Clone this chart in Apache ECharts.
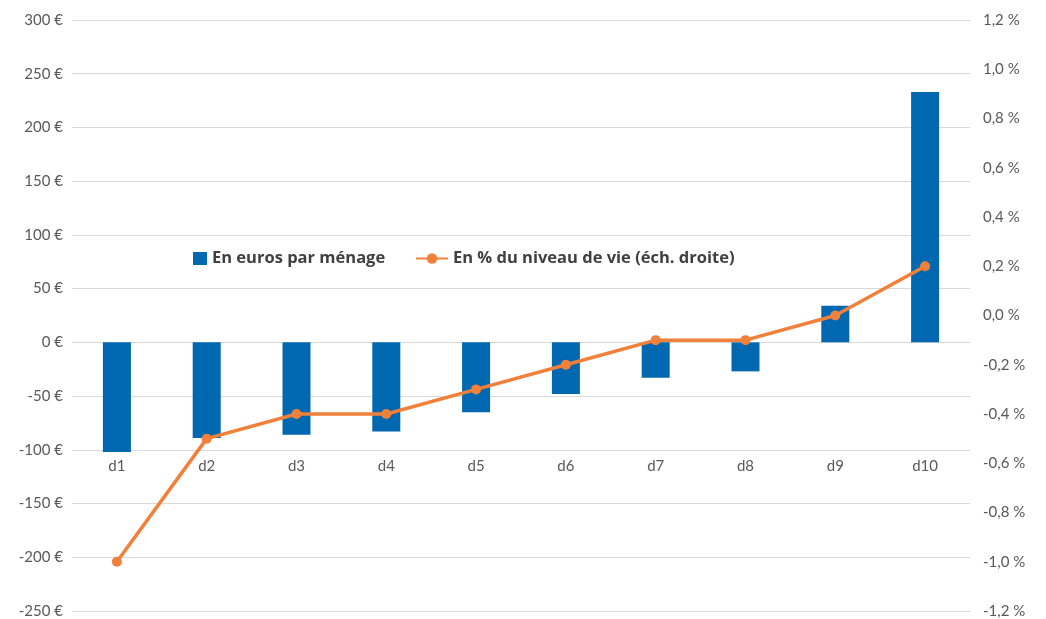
<!DOCTYPE html>
<html>
<head>
<meta charset="utf-8">
<script src="https://cdn.jsdelivr.net/npm/echarts@6/dist/echarts.min.js"></script>
<style>
    html, body { margin: 0; padding: 0; background: #fff; }
    #chart { width: 1046px; height: 619px; }
</style>
</head>
<body>
<div id="chart"></div>
<script>
    // déciles
    const deciles = ['d1', 'd2', 'd3', 'd4', 'd5', 'd6', 'd7', 'd8', 'd9', 'd10']
    // en euros par ménage
    const euros = [-102, -89, -86, -83, -65, -48, -33, -27, 34, 233]
    // en % du niveau de vie (échelle droite)
    const pct = [-1.0, -0.5, -0.4, -0.4, -0.3, -0.2, -0.1, -0.1, 0.0, 0.2]

    const fmt = (v, d) => v.toFixed(d).replace('.', ',')
    const txt = { color: '#595959', fontSize: 15, fontFamily: 'Lato, sans-serif' }
    const legendText = { color: '#404040', fontSize: 16.5, fontWeight: 'bold', fontFamily: '"Open Sans", sans-serif' }

    let chart = echarts.init(document.getElementById('chart'))
    chart.setOption({
        animation: false,
        textStyle: { fontFamily: 'Lato, sans-serif' },
        grid: { left: 72, right: 76, top: 20, bottom: 8, containLabel: false },
        // deux légendes pour avoir des pictos de largeur différente
        legend: [
            {
                left: 188, top: 245, itemWidth: 14, itemHeight: 13,
                textStyle: legendText,
                data: [{ name: 'En euros par ménage', icon: 'rect' }]
            },
            {
                left: 410, top: 245, itemWidth: 32, itemHeight: 13,
                textStyle: legendText,
                data: [{ name: 'En % du niveau de vie (éch. droite)' }]
            }
        ],
        xAxis: {
            type: 'category',
            data: deciles,
            position: 'bottom',
            offset: -161,
            axisLine: { show: false },
            axisTick: { show: false },
            axisLabel: Object.assign({ margin: 9 }, txt)
        },
        yAxis: [
            {
                type: 'value', min: -250, max: 300, interval: 50,
                axisLine: { show: false }, axisTick: { show: false },
                splitLine: { lineStyle: { color: '#d9d9d9', width: 1 } },
                axisLabel: Object.assign({ margin: 9, formatter: v => v + ' €' }, txt)
            },
            {
                type: 'value', min: -1.2, max: 1.2, interval: 0.2,
                axisLine: { show: false }, axisTick: { show: false },
                splitLine: { show: false },
                axisLabel: Object.assign({ margin: 13, formatter: v => fmt(v, 1) + ' %' }, txt)
            }
        ],
        series: [
            {
                name: 'En euros par ménage',
                type: 'bar',
                data: euros,
                barWidth: 28,
                itemStyle: { color: '#0068b0' }
            },
            {
                name: 'En % du niveau de vie (éch. droite)',
                type: 'line',
                yAxisIndex: 1,
                data: pct,
                symbol: 'circle',
                symbolSize: 10,
                lineStyle: { color: '#f0803a', width: 3.5 },
                itemStyle: { color: '#f0803a' }
            }
        ]
    })
</script>
</body>
</html>
